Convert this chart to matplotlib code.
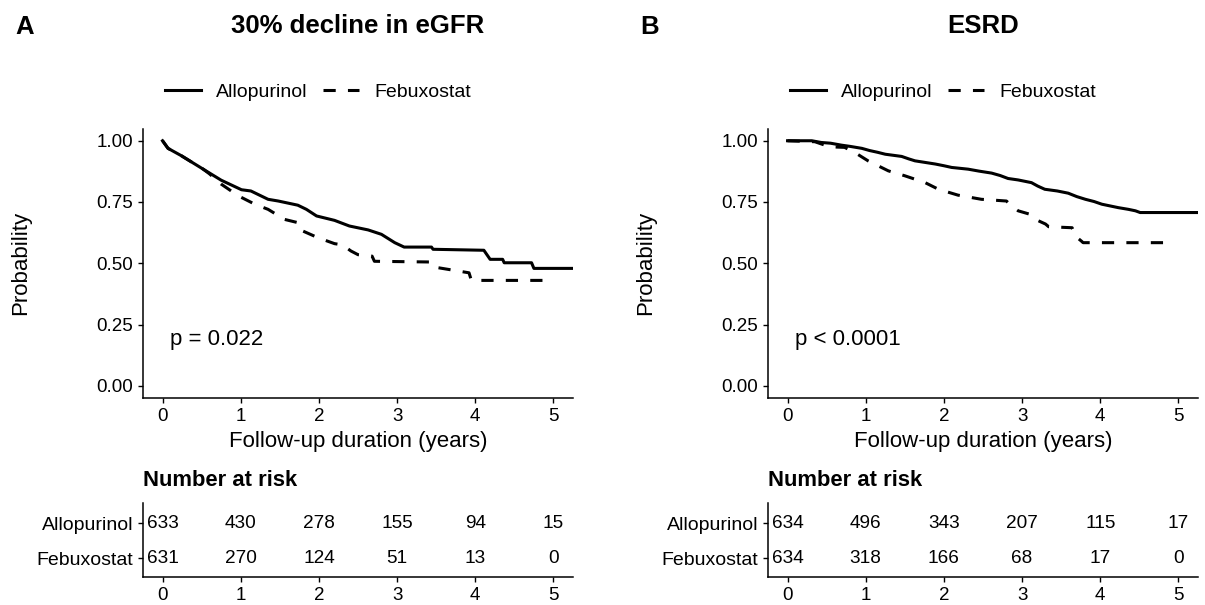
import matplotlib
matplotlib.use("Agg")
import matplotlib.pyplot as plt
from matplotlib.lines import Line2D

plt.rcParams['font.family'] = ['Liberation Sans', 'DejaVu Sans']

# ---------------- data ----------------
groups = ["Allopurinol", "Febuxostat"]
panel_titles = ["30% decline in eGFR", "ESRD"]
panel_letters = ["A", "B"]
pvalues = ["p = 0.022", "p < 0.0001"]

# Survival curves (repeated times = visible vertical drops)
# Panel A: 30% decline in eGFR
a_allo_t = [0, 0.07, 0.24, 0.52, 0.75, 1.01, 1.13, 1.35, 1.48, 1.73, 1.84, 1.97, 2.2, 2.39, 2.63,
            2.8, 2.97, 3.09, 3.44, 3.46, 4.11, 4.19, 4.35, 4.37, 4.72, 4.75, 5.24]
a_allo_s = [1.0, 0.969, 0.939, 0.884, 0.839, 0.80, 0.795, 0.761, 0.754, 0.737, 0.72, 0.693, 0.675, 0.652, 0.636,
            0.618, 0.584, 0.566, 0.566, 0.557, 0.553, 0.516, 0.516, 0.502, 0.502, 0.479, 0.479]
a_febu_t = [0, 0.07, 0.24, 0.52, 0.6, 0.75, 0.97, 1.18, 1.35, 1.56, 1.74, 1.77, 1.99, 2.2, 2.3,
            2.41, 2.5, 2.68, 2.71, 3.46, 3.52, 3.92, 3.95, 4.9]
a_febu_s = [1.0, 0.969, 0.939, 0.884, 0.865, 0.823, 0.775, 0.741, 0.72, 0.679, 0.665, 0.635, 0.604, 0.58, 0.575,
            0.55, 0.535, 0.529, 0.508, 0.505, 0.482, 0.461, 0.43, 0.43]

# Panel B: ESRD
b_allo_t = [0, 0.31, 0.43, 0.55, 0.69, 0.8, 0.95, 1.05, 1.15, 1.25, 1.46, 1.55, 1.63, 1.75, 1.89, 2.0,
            2.1, 2.31, 2.45, 2.61, 2.72, 2.82, 2.95, 3.12, 3.2, 3.29, 3.45, 3.59, 3.7, 3.81, 3.92, 4.02,
            4.23, 4.36, 4.45, 4.51, 5.24]
b_allo_s = [1.0, 1.0, 0.993, 0.99, 0.982, 0.977, 0.969, 0.96, 0.953, 0.945, 0.936, 0.926, 0.918, 0.912, 0.905, 0.898,
            0.891, 0.884, 0.876, 0.868, 0.858, 0.846, 0.84, 0.829, 0.815, 0.802, 0.795, 0.786, 0.772, 0.761, 0.752, 0.741,
            0.727, 0.72, 0.714, 0.707, 0.707]
b_febu_t = [0, 0.35, 0.45, 0.56, 0.73, 0.86, 1.03, 1.29, 1.5, 1.76, 1.93, 2.18, 2.48, 2.8, 2.86,
            2.95, 3.1, 3.17, 3.3, 3.34, 3.64, 3.68, 3.76, 3.78, 4.89]
b_febu_s = [1.0, 0.996, 0.985, 0.975, 0.973, 0.952, 0.918, 0.877, 0.857, 0.829, 0.802, 0.778, 0.761, 0.754, 0.735,
            0.714, 0.70, 0.679, 0.66, 0.649, 0.645, 0.611, 0.59, 0.584, 0.584]

risk_times = [0, 1, 2, 3, 4, 5]
a_risk_allo = [633, 430, 278, 155, 94, 15]
a_risk_febu = [631, 270, 124, 51, 13, 0]
b_risk_allo = [634, 496, 343, 207, 115, 17]
b_risk_febu = [634, 318, 166, 68, 17, 0]

x_ticks = [0, 1, 2, 3, 4, 5]
y_ticks = [0.0, 0.25, 0.5, 0.75, 1.0]
y_ticklabels = ["0.00", "0.25", "0.50", "0.75", "1.00"]

# ---------------- layout ----------------
W, H = 1205, 605
fig = plt.figure(figsize=(W / 100, H / 100), dpi=100)

DASH = (0, (4, 4))
LW = 2.2
TICK_FS = 13.5

def style_axes(ax):
    for s in ["top", "right"]:
        ax.spines[s].set_visible(False)
    for s in ["left", "bottom"]:
        ax.spines[s].set_linewidth(1.1)
    ax.tick_params(direction="out", length=3.5, width=1.0, pad=3.5,
                   labelsize=TICK_FS, colors="black")

panels = [
    dict(left=143, curves=((a_allo_t, a_allo_s), (a_febu_t, a_febu_s)),
         risk=(a_risk_allo, a_risk_febu), legend_cx=318),
    dict(left=768, curves=((b_allo_t, b_allo_s), (b_febu_t, b_febu_s)),
         risk=(b_risk_allo, b_risk_febu), legend_cx=943),
]

for i, p in enumerate(panels):
    L = p["left"]
    ax = fig.add_axes([L / W, 1 - 398 / H, 430 / W, 269.5 / H])
    (t1, s1), (t2, s2) = p["curves"]
    ax.plot(t1, s1, color="black", lw=LW, solid_joinstyle="round")
    ax.plot(t2, s2, color="black", lw=LW, linestyle=DASH, dash_capstyle="butt")
    ax.set_xlim(-0.25, 5.25)
    ax.set_ylim(-0.05, 1.05)
    ax.set_xticks(x_ticks)
    ax.set_yticks(y_ticks)
    ax.set_yticklabels(y_ticklabels)
    style_axes(ax)
    ax.set_xlabel("Follow-up duration (years)", fontsize=16)
    ax.xaxis.set_label_coords(0.5, (398 - 441) / 269.5)
    ax.xaxis.label.set_va("center")
    ax.set_ylabel("Probability", fontsize=16)
    ax.yaxis.set_label_coords((21 - 143) / 430, 0.5)
    ax.yaxis.label.set_va("center")
    ax.text(0.1, 0.19, pvalues[i], fontsize=16, ha="left", va="center")

    # title and panel letter
    fig.text((L + 215) / W, 1 - 26 / H, panel_titles[i], fontsize=18.5,
             fontweight="bold", ha="center", va="center")
    fig.text((L - 128) / W, 1 - 27 / H, panel_letters[i], fontsize=18.5,
             fontweight="bold", ha="left", va="center")

    # legend
    handles = [Line2D([], [], color="black", lw=LW),
               Line2D([], [], color="black", lw=LW, linestyle=DASH, dash_capstyle="butt")]
    fig.legend(handles, groups, loc="center", bbox_to_anchor=(p["legend_cx"] / W, 1 - 92 / H),
               ncol=2, frameon=False, fontsize=14, handlelength=1.85, handletextpad=0.8,
               columnspacing=0.8, borderpad=0, borderaxespad=0)

    # risk table
    tab = fig.add_axes([L / W, 1 - 577 / H, 430 / W, 74.3 / H])
    r_allo, r_febu = p["risk"]
    for xt, v in zip(risk_times, r_allo):
        tab.text(xt, 2, str(v), fontsize=13.7, ha="center", va="center")
    for xt, v in zip(risk_times, r_febu):
        tab.text(xt, 1, str(v), fontsize=13.7, ha="center", va="center")
    tab.set_xlim(-0.25, 5.25)
    tab.set_ylim(0.466, 2.589)
    tab.set_xticks(x_ticks)
    tab.set_yticks([2, 1])
    tab.set_yticklabels(groups)
    style_axes(tab)
    tab.tick_params(axis="y", labelsize=14)
    fig.text(L / W, 1 - 480 / H, "Number at risk", fontsize=15.8, fontweight="bold",
             ha="left", va="center")

fig.savefig("out.png", dpi=100)
